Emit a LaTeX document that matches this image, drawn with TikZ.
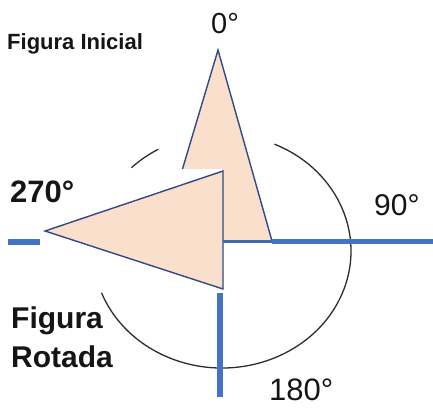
\documentclass[tikz,border=0pt]{standalone}
\usepackage{fontspec}
\setmainfont{Liberation Sans}
\definecolor{peach}{HTML}{F9DFCC}
\definecolor{navy}{HTML}{2F4A85}
\definecolor{lineblue}{HTML}{4472C4}
\definecolor{ink}{HTML}{151515}
\tikzset{
  tri/.style={fill=peach, draw=navy, line width=1.4pt, line join=miter},
  arcline/.style={draw=ink!90, line width=1.3pt},
  blueline/.style={draw=lineblue, line width=5.5pt},
  lbl/.style={anchor=base west, inner sep=0pt, text=ink},
}
\begin{document}
\begin{tikzpicture}[x=1pt,y=-1pt]
\useasboundingbox (0,0) rectangle (433,407);
% initial triangle
\coordinate (A) at (218,50);
\coordinate (B) at (161,241);
\coordinate (C) at (272,241);
\draw[tri] (A) -- (C) -- (B) -- cycle;
% rotation arcs (ellipse centre)
\coordinate (O) at (222,251);
\draw[arcline] (O) ++(-66:129 and 117) arc[start angle=-66, end angle=159, x radius=129, y radius=117];
\draw[arcline] (O) ++(225.4:129 and 117) arc[start angle=225.4, end angle=240.4, x radius=129, y radius=117];
% white background of rotated figure
\fill[white] (88,169) rectangle (222,292);
% rotated triangle
\coordinate (P) at (223,171);
\coordinate (Q) at (45,231);
\coordinate (R) at (223,289);
\draw[tri] (P) -- (Q) -- (R) -- cycle;
% axes
\coordinate (H0) at (223,241.5);
\coordinate (H1) at (272,241.5);
\coordinate (H2) at (433,241.5);
\draw[draw=lineblue!80!navy, line width=3.5pt] (H0) -- (H1);
\draw[blueline] (H1) -- (H2);
\coordinate (V1) at (220,293);
\coordinate (V2) at (220,397);
\draw[blueline] (V1) -- (V2);
\coordinate (L1) at (8,242);
\coordinate (L2) at (40,242);
\draw[blueline] (L1) -- (L2);
% labels
\node[lbl, font=\fontsize{22}{24}\selectfont\bfseries] (ini) at (7,49) {Figura Inicial};
\node[lbl, font=\fontsize{29}{32}\selectfont] (d0) at (211,33) {0°};
\node[lbl, font=\fontsize{30}{33}\selectfont] (d90) at (374,215) {90°};
\node[lbl, font=\fontsize{31}{34}\selectfont] (d180) at (269,400) {180°};
\node[lbl, font=\fontsize{31}{34}\selectfont\bfseries] (d270) at (10,202) {270°};
\node[lbl, font=\fontsize{30}{33}\selectfont\bfseries] (rot1) at (11,328) {Figura};
\node[lbl, font=\fontsize{30}{33}\selectfont\bfseries] (rot2) at (11,367) {Rotada};
\end{tikzpicture}
\end{document}
